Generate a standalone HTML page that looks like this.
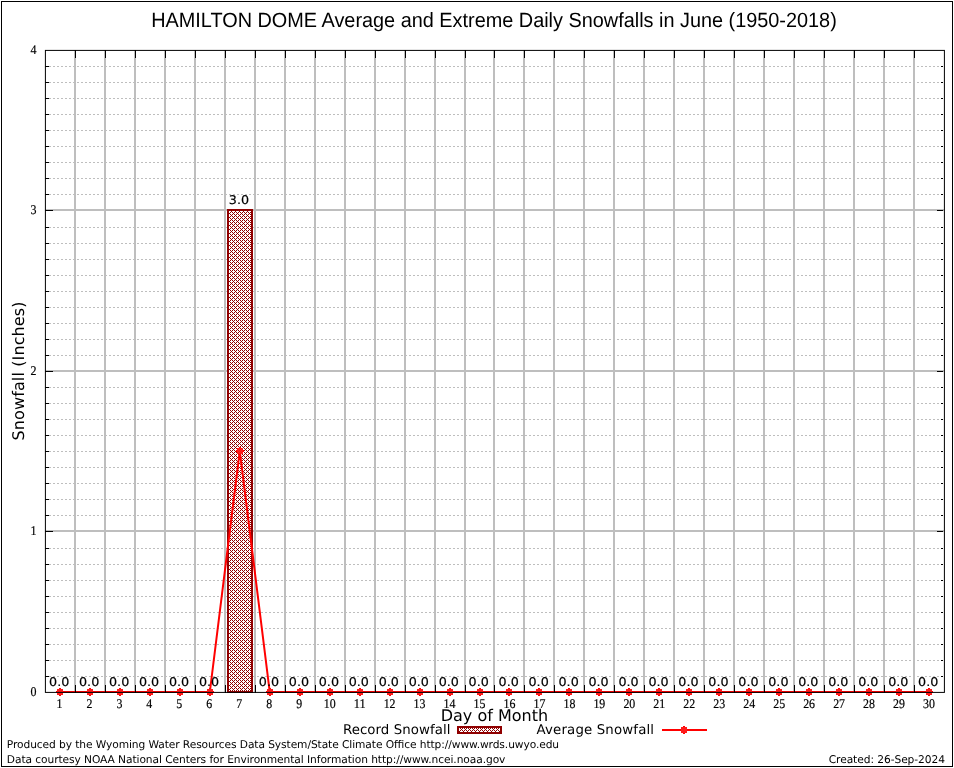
<!DOCTYPE html>
<html><head><meta charset="utf-8"><title>HAMILTON DOME Snowfall</title>
<style>html,body{margin:0;padding:0;background:#fff;}body{width:954px;height:768px;overflow:hidden;}svg{display:block;will-change:transform;}text{text-rendering:geometricPrecision;}.t{font-family:"Liberation Sans",sans-serif;}.d{font-family:"DejaVu Sans","Liberation Sans",sans-serif;}.s{font-family:"Liberation Serif",serif;}</style></head><body>
<svg width="954" height="768" viewBox="0 0 954 768">
<defs><pattern id="hatch" width="4" height="4" patternUnits="userSpaceOnUse" x="0" y="0"><rect width="4" height="4" fill="#fff"/><g fill="#900000" shape-rendering="crispEdges"><rect x="0" y="0" width="1" height="1"/><rect x="2" y="0" width="1" height="1"/><rect x="1" y="1" width="1" height="1"/><rect x="0" y="2" width="1" height="1"/><rect x="2" y="2" width="1" height="1"/><rect x="3" y="3" width="1" height="1"/></g></pattern><g id="m" fill="#ff1a1a" shape-rendering="crispEdges"><rect x="-3" y="-3" width="6" height="6"/><rect x="-1" y="-4" width="2" height="8" fill="#ff0000"/><rect x="-4" y="-1" width="8" height="2" fill="#ff0000"/><rect x="-3" y="-3" width="6" height="6"/></g></defs>
<rect width="954" height="768" fill="#fff"/>
<rect x="1.5" y="1.5" width="951" height="765" fill="none" stroke="#000" stroke-width="1" shape-rendering="crispEdges"/>
<g stroke="#bebebe" stroke-width="1" stroke-dasharray="2,2" shape-rendering="crispEdges">
<line x1="45" y1="676.5" x2="944" y2="676.5"/>
<line x1="45" y1="660.5" x2="944" y2="660.5"/>
<line x1="45" y1="644.5" x2="944" y2="644.5"/>
<line x1="45" y1="628.5" x2="944" y2="628.5"/>
<line x1="45" y1="612.5" x2="944" y2="612.5"/>
<line x1="45" y1="596.5" x2="944" y2="596.5"/>
<line x1="45" y1="580.5" x2="944" y2="580.5"/>
<line x1="45" y1="564.5" x2="944" y2="564.5"/>
<line x1="45" y1="548.5" x2="944" y2="548.5"/>
<line x1="45" y1="515.5" x2="944" y2="515.5"/>
<line x1="45" y1="499.5" x2="944" y2="499.5"/>
<line x1="45" y1="483.5" x2="944" y2="483.5"/>
<line x1="45" y1="467.5" x2="944" y2="467.5"/>
<line x1="45" y1="451.5" x2="944" y2="451.5"/>
<line x1="45" y1="435.5" x2="944" y2="435.5"/>
<line x1="45" y1="419.5" x2="944" y2="419.5"/>
<line x1="45" y1="403.5" x2="944" y2="403.5"/>
<line x1="45" y1="387.5" x2="944" y2="387.5"/>
<line x1="45" y1="355.5" x2="944" y2="355.5"/>
<line x1="45" y1="339.5" x2="944" y2="339.5"/>
<line x1="45" y1="323.5" x2="944" y2="323.5"/>
<line x1="45" y1="307.5" x2="944" y2="307.5"/>
<line x1="45" y1="291.5" x2="944" y2="291.5"/>
<line x1="45" y1="275.5" x2="944" y2="275.5"/>
<line x1="45" y1="259.5" x2="944" y2="259.5"/>
<line x1="45" y1="243.5" x2="944" y2="243.5"/>
<line x1="45" y1="227.5" x2="944" y2="227.5"/>
<line x1="45" y1="194.5" x2="944" y2="194.5"/>
<line x1="45" y1="178.5" x2="944" y2="178.5"/>
<line x1="45" y1="162.5" x2="944" y2="162.5"/>
<line x1="45" y1="146.5" x2="944" y2="146.5"/>
<line x1="45" y1="130.5" x2="944" y2="130.5"/>
<line x1="45" y1="114.5" x2="944" y2="114.5"/>
<line x1="45" y1="98.5" x2="944" y2="98.5"/>
<line x1="45" y1="82.5" x2="944" y2="82.5"/>
<line x1="45" y1="66.5" x2="944" y2="66.5"/>
</g>
<g stroke="#bebebe" stroke-width="2" shape-rendering="crispEdges">
<line x1="75" y1="50" x2="75" y2="692"/>
<line x1="105" y1="50" x2="105" y2="692"/>
<line x1="135" y1="50" x2="135" y2="692"/>
<line x1="165" y1="50" x2="165" y2="692"/>
<line x1="195" y1="50" x2="195" y2="692"/>
<line x1="225" y1="50" x2="225" y2="692"/>
<line x1="255" y1="50" x2="255" y2="692"/>
<line x1="285" y1="50" x2="285" y2="692"/>
<line x1="315" y1="50" x2="315" y2="692"/>
<line x1="345" y1="50" x2="345" y2="692"/>
<line x1="375" y1="50" x2="375" y2="692"/>
<line x1="405" y1="50" x2="405" y2="692"/>
<line x1="435" y1="50" x2="435" y2="692"/>
<line x1="465" y1="50" x2="465" y2="692"/>
<line x1="494" y1="50" x2="494" y2="692"/>
<line x1="524" y1="50" x2="524" y2="692"/>
<line x1="554" y1="50" x2="554" y2="692"/>
<line x1="584" y1="50" x2="584" y2="692"/>
<line x1="614" y1="50" x2="614" y2="692"/>
<line x1="644" y1="50" x2="644" y2="692"/>
<line x1="674" y1="50" x2="674" y2="692"/>
<line x1="704" y1="50" x2="704" y2="692"/>
<line x1="734" y1="50" x2="734" y2="692"/>
<line x1="764" y1="50" x2="764" y2="692"/>
<line x1="794" y1="50" x2="794" y2="692"/>
<line x1="824" y1="50" x2="824" y2="692"/>
<line x1="854" y1="50" x2="854" y2="692"/>
<line x1="884" y1="50" x2="884" y2="692"/>
<line x1="914" y1="50" x2="914" y2="692"/>
<line x1="45" y1="531" x2="944" y2="531"/>
<line x1="45" y1="371" x2="944" y2="371"/>
<line x1="45" y1="210" x2="944" y2="210"/>
</g>
<rect x="227" y="209" width="26" height="484" fill="url(#hatch)" shape-rendering="crispEdges"/>
<rect x="228" y="210" width="24" height="482" fill="none" stroke="#900000" stroke-width="2" shape-rendering="crispEdges"/>
<polyline points="59.98,692 89.95,692 119.92,692 149.88,692 179.85,692 209.82,692 239.78,451 269.75,692 299.72,692 329.68,692 359.65,692 389.62,692 419.58,692 449.55,692 479.52,692 509.48,692 539.45,692 569.42,692 599.38,692 629.35,692 659.32,692 689.28,692 719.25,692 749.22,692 779.18,692 809.15,692 839.12,692 869.08,692 899.05,692 929.02,692" fill="none" stroke="#ff0000" stroke-width="2" stroke-linejoin="miter"/>
<use href="#m" x="60" y="692"/>
<use href="#m" x="90" y="692"/>
<use href="#m" x="120" y="692"/>
<use href="#m" x="150" y="692"/>
<use href="#m" x="180" y="692"/>
<use href="#m" x="210" y="692"/>
<use href="#m" x="240" y="451"/>
<use href="#m" x="270" y="692"/>
<use href="#m" x="300" y="692"/>
<use href="#m" x="330" y="692"/>
<use href="#m" x="360" y="692"/>
<use href="#m" x="390" y="692"/>
<use href="#m" x="420" y="692"/>
<use href="#m" x="450" y="692"/>
<use href="#m" x="480" y="692"/>
<use href="#m" x="509" y="692"/>
<use href="#m" x="539" y="692"/>
<use href="#m" x="569" y="692"/>
<use href="#m" x="599" y="692"/>
<use href="#m" x="629" y="692"/>
<use href="#m" x="659" y="692"/>
<use href="#m" x="689" y="692"/>
<use href="#m" x="719" y="692"/>
<use href="#m" x="749" y="692"/>
<use href="#m" x="779" y="692"/>
<use href="#m" x="809" y="692"/>
<use href="#m" x="839" y="692"/>
<use href="#m" x="869" y="692"/>
<use href="#m" x="899" y="692"/>
<use href="#m" x="929" y="692"/>
<g stroke="#000" stroke-width="1" shape-rendering="crispEdges">
<line x1="75.5" y1="50" x2="75.5" y2="58"/>
<line x1="75.5" y1="693" x2="75.5" y2="685"/>
<line x1="105.5" y1="50" x2="105.5" y2="58"/>
<line x1="105.5" y1="693" x2="105.5" y2="685"/>
<line x1="135.5" y1="50" x2="135.5" y2="58"/>
<line x1="135.5" y1="693" x2="135.5" y2="685"/>
<line x1="165.5" y1="50" x2="165.5" y2="58"/>
<line x1="165.5" y1="693" x2="165.5" y2="685"/>
<line x1="195.5" y1="50" x2="195.5" y2="58"/>
<line x1="195.5" y1="693" x2="195.5" y2="685"/>
<line x1="225.5" y1="50" x2="225.5" y2="58"/>
<line x1="225.5" y1="693" x2="225.5" y2="685"/>
<line x1="255.5" y1="50" x2="255.5" y2="58"/>
<line x1="255.5" y1="693" x2="255.5" y2="685"/>
<line x1="285.5" y1="50" x2="285.5" y2="58"/>
<line x1="285.5" y1="693" x2="285.5" y2="685"/>
<line x1="315.5" y1="50" x2="315.5" y2="58"/>
<line x1="315.5" y1="693" x2="315.5" y2="685"/>
<line x1="345.5" y1="50" x2="345.5" y2="58"/>
<line x1="345.5" y1="693" x2="345.5" y2="685"/>
<line x1="375.5" y1="50" x2="375.5" y2="58"/>
<line x1="375.5" y1="693" x2="375.5" y2="685"/>
<line x1="405.5" y1="50" x2="405.5" y2="58"/>
<line x1="405.5" y1="693" x2="405.5" y2="685"/>
<line x1="435.5" y1="50" x2="435.5" y2="58"/>
<line x1="435.5" y1="693" x2="435.5" y2="685"/>
<line x1="465.5" y1="50" x2="465.5" y2="58"/>
<line x1="465.5" y1="693" x2="465.5" y2="685"/>
<line x1="494.5" y1="50" x2="494.5" y2="58"/>
<line x1="494.5" y1="693" x2="494.5" y2="685"/>
<line x1="524.5" y1="50" x2="524.5" y2="58"/>
<line x1="524.5" y1="693" x2="524.5" y2="685"/>
<line x1="554.5" y1="50" x2="554.5" y2="58"/>
<line x1="554.5" y1="693" x2="554.5" y2="685"/>
<line x1="584.5" y1="50" x2="584.5" y2="58"/>
<line x1="584.5" y1="693" x2="584.5" y2="685"/>
<line x1="614.5" y1="50" x2="614.5" y2="58"/>
<line x1="614.5" y1="693" x2="614.5" y2="685"/>
<line x1="644.5" y1="50" x2="644.5" y2="58"/>
<line x1="644.5" y1="693" x2="644.5" y2="685"/>
<line x1="674.5" y1="50" x2="674.5" y2="58"/>
<line x1="674.5" y1="693" x2="674.5" y2="685"/>
<line x1="704.5" y1="50" x2="704.5" y2="58"/>
<line x1="704.5" y1="693" x2="704.5" y2="685"/>
<line x1="734.5" y1="50" x2="734.5" y2="58"/>
<line x1="734.5" y1="693" x2="734.5" y2="685"/>
<line x1="764.5" y1="50" x2="764.5" y2="58"/>
<line x1="764.5" y1="693" x2="764.5" y2="685"/>
<line x1="794.5" y1="50" x2="794.5" y2="58"/>
<line x1="794.5" y1="693" x2="794.5" y2="685"/>
<line x1="824.5" y1="50" x2="824.5" y2="58"/>
<line x1="824.5" y1="693" x2="824.5" y2="685"/>
<line x1="854.5" y1="50" x2="854.5" y2="58"/>
<line x1="854.5" y1="693" x2="854.5" y2="685"/>
<line x1="884.5" y1="50" x2="884.5" y2="58"/>
<line x1="884.5" y1="693" x2="884.5" y2="685"/>
<line x1="914.5" y1="50" x2="914.5" y2="58"/>
<line x1="914.5" y1="693" x2="914.5" y2="685"/>
<line x1="45" y1="676.5" x2="49" y2="676.5"/>
<line x1="943" y1="676.5" x2="941" y2="676.5"/>
<line x1="45" y1="660.5" x2="49" y2="660.5"/>
<line x1="943" y1="660.5" x2="941" y2="660.5"/>
<line x1="45" y1="644.5" x2="49" y2="644.5"/>
<line x1="943" y1="644.5" x2="941" y2="644.5"/>
<line x1="45" y1="628.5" x2="49" y2="628.5"/>
<line x1="943" y1="628.5" x2="941" y2="628.5"/>
<line x1="45" y1="612.5" x2="49" y2="612.5"/>
<line x1="943" y1="612.5" x2="941" y2="612.5"/>
<line x1="45" y1="596.5" x2="49" y2="596.5"/>
<line x1="943" y1="596.5" x2="941" y2="596.5"/>
<line x1="45" y1="580.5" x2="49" y2="580.5"/>
<line x1="943" y1="580.5" x2="941" y2="580.5"/>
<line x1="45" y1="564.5" x2="49" y2="564.5"/>
<line x1="943" y1="564.5" x2="941" y2="564.5"/>
<line x1="45" y1="548.5" x2="49" y2="548.5"/>
<line x1="943" y1="548.5" x2="941" y2="548.5"/>
<line x1="45" y1="531.5" x2="53" y2="531.5"/>
<line x1="943" y1="531.5" x2="937" y2="531.5"/>
<line x1="45" y1="515.5" x2="49" y2="515.5"/>
<line x1="943" y1="515.5" x2="941" y2="515.5"/>
<line x1="45" y1="499.5" x2="49" y2="499.5"/>
<line x1="943" y1="499.5" x2="941" y2="499.5"/>
<line x1="45" y1="483.5" x2="49" y2="483.5"/>
<line x1="943" y1="483.5" x2="941" y2="483.5"/>
<line x1="45" y1="467.5" x2="49" y2="467.5"/>
<line x1="943" y1="467.5" x2="941" y2="467.5"/>
<line x1="45" y1="451.5" x2="49" y2="451.5"/>
<line x1="943" y1="451.5" x2="941" y2="451.5"/>
<line x1="45" y1="435.5" x2="49" y2="435.5"/>
<line x1="943" y1="435.5" x2="941" y2="435.5"/>
<line x1="45" y1="419.5" x2="49" y2="419.5"/>
<line x1="943" y1="419.5" x2="941" y2="419.5"/>
<line x1="45" y1="403.5" x2="49" y2="403.5"/>
<line x1="943" y1="403.5" x2="941" y2="403.5"/>
<line x1="45" y1="387.5" x2="49" y2="387.5"/>
<line x1="943" y1="387.5" x2="941" y2="387.5"/>
<line x1="45" y1="371.5" x2="53" y2="371.5"/>
<line x1="943" y1="371.5" x2="937" y2="371.5"/>
<line x1="45" y1="355.5" x2="49" y2="355.5"/>
<line x1="943" y1="355.5" x2="941" y2="355.5"/>
<line x1="45" y1="339.5" x2="49" y2="339.5"/>
<line x1="943" y1="339.5" x2="941" y2="339.5"/>
<line x1="45" y1="323.5" x2="49" y2="323.5"/>
<line x1="943" y1="323.5" x2="941" y2="323.5"/>
<line x1="45" y1="307.5" x2="49" y2="307.5"/>
<line x1="943" y1="307.5" x2="941" y2="307.5"/>
<line x1="45" y1="291.5" x2="49" y2="291.5"/>
<line x1="943" y1="291.5" x2="941" y2="291.5"/>
<line x1="45" y1="275.5" x2="49" y2="275.5"/>
<line x1="943" y1="275.5" x2="941" y2="275.5"/>
<line x1="45" y1="259.5" x2="49" y2="259.5"/>
<line x1="943" y1="259.5" x2="941" y2="259.5"/>
<line x1="45" y1="243.5" x2="49" y2="243.5"/>
<line x1="943" y1="243.5" x2="941" y2="243.5"/>
<line x1="45" y1="227.5" x2="49" y2="227.5"/>
<line x1="943" y1="227.5" x2="941" y2="227.5"/>
<line x1="45" y1="210.5" x2="53" y2="210.5"/>
<line x1="943" y1="210.5" x2="937" y2="210.5"/>
<line x1="45" y1="194.5" x2="49" y2="194.5"/>
<line x1="943" y1="194.5" x2="941" y2="194.5"/>
<line x1="45" y1="178.5" x2="49" y2="178.5"/>
<line x1="943" y1="178.5" x2="941" y2="178.5"/>
<line x1="45" y1="162.5" x2="49" y2="162.5"/>
<line x1="943" y1="162.5" x2="941" y2="162.5"/>
<line x1="45" y1="146.5" x2="49" y2="146.5"/>
<line x1="943" y1="146.5" x2="941" y2="146.5"/>
<line x1="45" y1="130.5" x2="49" y2="130.5"/>
<line x1="943" y1="130.5" x2="941" y2="130.5"/>
<line x1="45" y1="114.5" x2="49" y2="114.5"/>
<line x1="943" y1="114.5" x2="941" y2="114.5"/>
<line x1="45" y1="98.5" x2="49" y2="98.5"/>
<line x1="943" y1="98.5" x2="941" y2="98.5"/>
<line x1="45" y1="82.5" x2="49" y2="82.5"/>
<line x1="943" y1="82.5" x2="941" y2="82.5"/>
<line x1="45" y1="66.5" x2="49" y2="66.5"/>
<line x1="943" y1="66.5" x2="941" y2="66.5"/>
</g>
<rect x="45.4" y="50.4" width="899" height="642" fill="none" stroke="#000" stroke-width="1"/>
<text class="t" x="494" y="26.8" font-size="20.6" text-anchor="middle" textLength="685.6" lengthAdjust="spacingAndGlyphs" fill="#000">HAMILTON DOME Average and Extreme Daily Snowfalls in June (1950-2018)</text>
<g class="d" font-size="12" text-anchor="middle" fill="#000" stroke="#000" stroke-width="0.2" textLength="20.2" lengthAdjust="spacingAndGlyphs">
<text x="59.18" y="686" textLength="20.2" lengthAdjust="spacingAndGlyphs">0.0</text>
<text x="89.15" y="686" textLength="20.2" lengthAdjust="spacingAndGlyphs">0.0</text>
<text x="119.12" y="686" textLength="20.2" lengthAdjust="spacingAndGlyphs">0.0</text>
<text x="149.08" y="686" textLength="20.2" lengthAdjust="spacingAndGlyphs">0.0</text>
<text x="179.05" y="686" textLength="20.2" lengthAdjust="spacingAndGlyphs">0.0</text>
<text x="209.02" y="686" textLength="20.2" lengthAdjust="spacingAndGlyphs">0.0</text>
<text x="238.98" y="204" textLength="20.2" lengthAdjust="spacingAndGlyphs">3.0</text>
<text x="268.95" y="686" textLength="20.2" lengthAdjust="spacingAndGlyphs">0.0</text>
<text x="298.92" y="686" textLength="20.2" lengthAdjust="spacingAndGlyphs">0.0</text>
<text x="328.88" y="686" textLength="20.2" lengthAdjust="spacingAndGlyphs">0.0</text>
<text x="358.85" y="686" textLength="20.2" lengthAdjust="spacingAndGlyphs">0.0</text>
<text x="388.82" y="686" textLength="20.2" lengthAdjust="spacingAndGlyphs">0.0</text>
<text x="418.78" y="686" textLength="20.2" lengthAdjust="spacingAndGlyphs">0.0</text>
<text x="448.75" y="686" textLength="20.2" lengthAdjust="spacingAndGlyphs">0.0</text>
<text x="478.72" y="686" textLength="20.2" lengthAdjust="spacingAndGlyphs">0.0</text>
<text x="508.68" y="686" textLength="20.2" lengthAdjust="spacingAndGlyphs">0.0</text>
<text x="538.65" y="686" textLength="20.2" lengthAdjust="spacingAndGlyphs">0.0</text>
<text x="568.62" y="686" textLength="20.2" lengthAdjust="spacingAndGlyphs">0.0</text>
<text x="598.58" y="686" textLength="20.2" lengthAdjust="spacingAndGlyphs">0.0</text>
<text x="628.55" y="686" textLength="20.2" lengthAdjust="spacingAndGlyphs">0.0</text>
<text x="658.52" y="686" textLength="20.2" lengthAdjust="spacingAndGlyphs">0.0</text>
<text x="688.48" y="686" textLength="20.2" lengthAdjust="spacingAndGlyphs">0.0</text>
<text x="718.45" y="686" textLength="20.2" lengthAdjust="spacingAndGlyphs">0.0</text>
<text x="748.42" y="686" textLength="20.2" lengthAdjust="spacingAndGlyphs">0.0</text>
<text x="778.38" y="686" textLength="20.2" lengthAdjust="spacingAndGlyphs">0.0</text>
<text x="808.35" y="686" textLength="20.2" lengthAdjust="spacingAndGlyphs">0.0</text>
<text x="838.32" y="686" textLength="20.2" lengthAdjust="spacingAndGlyphs">0.0</text>
<text x="868.28" y="686" textLength="20.2" lengthAdjust="spacingAndGlyphs">0.0</text>
<text x="898.25" y="686" textLength="20.2" lengthAdjust="spacingAndGlyphs">0.0</text>
<text x="928.22" y="686" textLength="20.2" lengthAdjust="spacingAndGlyphs">0.0</text>
</g>
<g class="s" font-size="13.33" fill="#000" stroke="#000" stroke-width="0.2">
<text x="36.4" y="696" text-anchor="end" textLength="6" lengthAdjust="spacingAndGlyphs">0</text>
<text x="36.4" y="535" text-anchor="end" textLength="6" lengthAdjust="spacingAndGlyphs">1</text>
<text x="36.4" y="375" text-anchor="end" textLength="6" lengthAdjust="spacingAndGlyphs">2</text>
<text x="36.4" y="214" text-anchor="end" textLength="6" lengthAdjust="spacingAndGlyphs">3</text>
<text x="36.4" y="54" text-anchor="end" textLength="6" lengthAdjust="spacingAndGlyphs">4</text>
<text x="56.45" y="708" textLength="5.95" lengthAdjust="spacingAndGlyphs">1</text>
<text x="86.41" y="708" textLength="5.95" lengthAdjust="spacingAndGlyphs">2</text>
<text x="116.38" y="708" textLength="5.95" lengthAdjust="spacingAndGlyphs">3</text>
<text x="146.35" y="708" textLength="5.95" lengthAdjust="spacingAndGlyphs">4</text>
<text x="176.31" y="708" textLength="5.95" lengthAdjust="spacingAndGlyphs">5</text>
<text x="206.28" y="708" textLength="5.95" lengthAdjust="spacingAndGlyphs">6</text>
<text x="236.25" y="708" textLength="5.95" lengthAdjust="spacingAndGlyphs">7</text>
<text x="266.22" y="708" textLength="5.95" lengthAdjust="spacingAndGlyphs">8</text>
<text x="296.18" y="708" textLength="5.95" lengthAdjust="spacingAndGlyphs">9</text>
<text x="323.71" y="708" textLength="11.90" lengthAdjust="spacingAndGlyphs">10</text>
<text x="353.68" y="708" textLength="11.90" lengthAdjust="spacingAndGlyphs">11</text>
<text x="383.65" y="708" textLength="11.90" lengthAdjust="spacingAndGlyphs">12</text>
<text x="413.61" y="708" textLength="11.90" lengthAdjust="spacingAndGlyphs">13</text>
<text x="443.58" y="708" textLength="11.90" lengthAdjust="spacingAndGlyphs">14</text>
<text x="473.55" y="708" textLength="11.90" lengthAdjust="spacingAndGlyphs">15</text>
<text x="503.51" y="708" textLength="11.90" lengthAdjust="spacingAndGlyphs">16</text>
<text x="533.48" y="708" textLength="11.90" lengthAdjust="spacingAndGlyphs">17</text>
<text x="563.45" y="708" textLength="11.90" lengthAdjust="spacingAndGlyphs">18</text>
<text x="593.41" y="708" textLength="11.90" lengthAdjust="spacingAndGlyphs">19</text>
<text x="623.38" y="708" textLength="11.90" lengthAdjust="spacingAndGlyphs">20</text>
<text x="653.35" y="708" textLength="11.90" lengthAdjust="spacingAndGlyphs">21</text>
<text x="683.31" y="708" textLength="11.90" lengthAdjust="spacingAndGlyphs">22</text>
<text x="713.28" y="708" textLength="11.90" lengthAdjust="spacingAndGlyphs">23</text>
<text x="743.25" y="708" textLength="11.90" lengthAdjust="spacingAndGlyphs">24</text>
<text x="773.21" y="708" textLength="11.90" lengthAdjust="spacingAndGlyphs">25</text>
<text x="803.18" y="708" textLength="11.90" lengthAdjust="spacingAndGlyphs">26</text>
<text x="833.15" y="708" textLength="11.90" lengthAdjust="spacingAndGlyphs">27</text>
<text x="863.11" y="708" textLength="11.90" lengthAdjust="spacingAndGlyphs">28</text>
<text x="893.08" y="708" textLength="11.90" lengthAdjust="spacingAndGlyphs">29</text>
<text x="923.05" y="708" textLength="11.90" lengthAdjust="spacingAndGlyphs">30</text>
</g>
<text class="d" x="494.4" y="721.1" font-size="16" text-anchor="middle" fill="#000">Day of Month</text>
<text class="d" transform="translate(24,371) rotate(-90)" font-size="16" text-anchor="middle" textLength="139" lengthAdjust="spacing" fill="#000">Snowfall (Inches)</text>
<text class="d" x="450.4" y="733.8" font-size="13.33" text-anchor="end" textLength="107.5" lengthAdjust="spacing" fill="#000">Record Snowfall</text>
<rect x="457" y="726" width="45" height="8" fill="url(#hatch)" shape-rendering="crispEdges"/>
<rect x="458" y="727" width="43" height="6" fill="none" stroke="#900000" stroke-width="2" shape-rendering="crispEdges"/>
<text class="d" x="654" y="733.8" font-size="13.33" text-anchor="end" textLength="117.4" lengthAdjust="spacing" fill="#000">Average Snowfall</text>
<line x1="662" y1="730" x2="707" y2="730" stroke="#ff0000" stroke-width="2" shape-rendering="crispEdges"/>
<use href="#m" x="684" y="730"/>
<g class="d" font-size="10.67" fill="#000">
<text x="6.8" y="748" textLength="552.3" lengthAdjust="spacing">Produced by the Wyoming Water Resources Data System/State Climate Office http://www.wrds.uwyo.edu</text>
<text x="6.8" y="763" textLength="498.6" lengthAdjust="spacing">Data courtesy NOAA National Centers for Environmental Information http://www.ncei.noaa.gov</text>
<text x="945" y="763" text-anchor="end" textLength="116.3" lengthAdjust="spacing">Created: 26-Sep-2024</text>
</g>
</svg></body></html>
